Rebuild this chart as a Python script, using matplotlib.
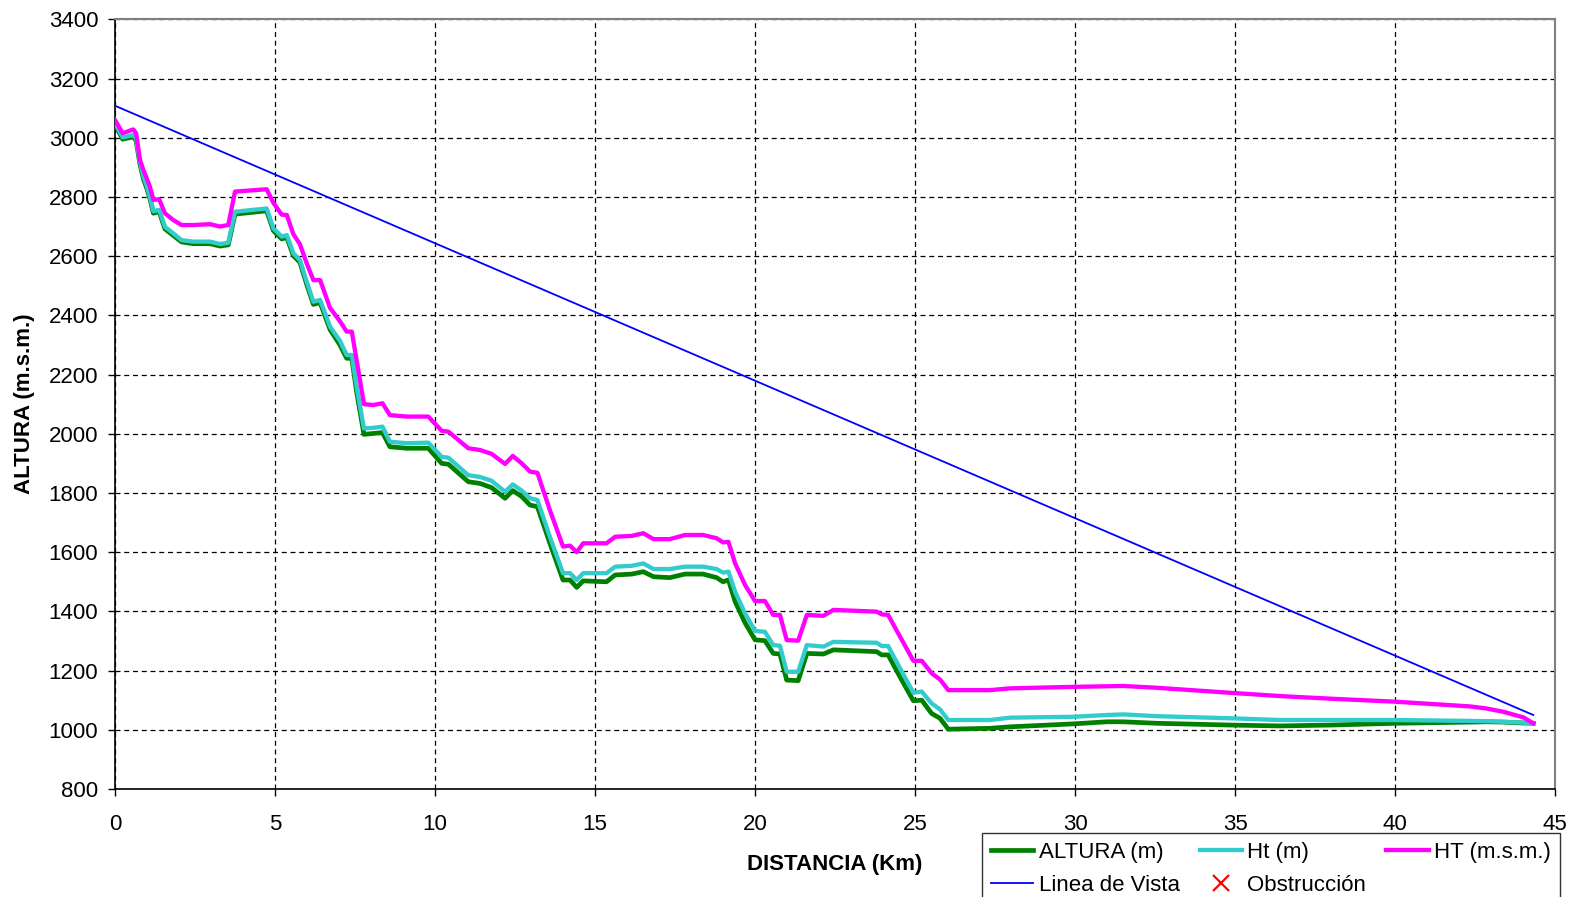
import numpy
import matplotlib.pyplot as plt

plt.rcParams['font.family'] = ['Liberation Sans', 'DejaVu Sans']

# perfil del enlace
distancia = [0.00, 0.24, 0.57, 0.66, 0.78, 0.89, 0.99, 1.09, 1.20, 1.38, 1.56, 1.82, 2.08, 2.45,
             2.97, 3.28, 3.54, 3.75, 4.74, 4.95, 5.21, 5.37, 5.57, 5.78, 5.99, 6.20, 6.41, 6.72,
             7.03, 7.24, 7.40, 7.55, 7.78, 8.07, 8.36, 8.59, 9.12, 9.79, 10.21, 10.42, 11.04,
             11.41, 11.77, 12.19, 12.43, 12.71, 12.97, 13.20, 13.59, 14.00, 14.22, 14.43, 14.63,
             15.36, 15.63, 16.15, 16.51, 16.83, 17.34, 17.81, 18.38, 18.80, 19.00, 19.17, 19.38,
             19.69, 20.00, 20.31, 20.57, 20.78, 20.99, 21.35, 21.62, 22.14, 22.45, 23.80, 23.96,
             24.16, 24.53, 24.95, 25.21, 25.52, 25.78, 26.04, 27.34, 27.97, 29.95, 31.00, 31.51,
             32.55, 34.84, 36.40, 38.00, 40.00, 42.34, 42.86, 43.38, 44.01, 44.32]

altura = [3045, 2995, 3003, 2990, 2910, 2860, 2830, 2795, 2745, 2750, 2692, 2670, 2648, 2642,
          2642, 2634, 2638, 2742, 2753, 2686, 2658, 2663, 2602, 2579, 2505, 2437, 2443, 2352,
          2300, 2255, 2255, 2142, 1998, 2001, 2004, 1956, 1951, 1951, 1900, 1897, 1838,
          1832, 1818, 1782, 1808, 1788, 1759, 1754, 1630, 1506, 1506, 1481, 1503,
          1500, 1523, 1526, 1534, 1517, 1514, 1526, 1526, 1514, 1500, 1506, 1433,
          1361, 1304, 1301, 1258, 1256, 1168, 1166, 1258, 1256, 1270, 1264, 1253,
          1253, 1179, 1098, 1100, 1055, 1039, 1002, 1005, 1010, 1020, 1027, 1027,
          1022, 1016, 1013, 1016, 1022, 1026, 1027, 1026, 1023, 1022]

ht = [3050, 3001, 3009, 2997, 2918, 2868, 2838, 2801, 2752, 2756, 2699, 2677, 2654, 2649,
      2649, 2641, 2645, 2750, 2761, 2694, 2666, 2671, 2610, 2587, 2514, 2446, 2452, 2362,
      2314, 2266, 2266, 2159, 2018, 2020, 2024, 1973, 1968, 1970, 1922, 1919, 1860,
      1854, 1841, 1804, 1829, 1808, 1782, 1776, 1652, 1529, 1529, 1506, 1529,
      1529, 1551, 1554, 1562, 1543, 1543, 1551, 1551, 1543, 1531, 1534, 1466,
      1393, 1334, 1331, 1286, 1284, 1196, 1196, 1286, 1281, 1297, 1294, 1283,
      1283, 1208, 1125, 1129, 1089, 1069, 1033, 1033, 1041, 1044, 1050, 1052,
      1046, 1039, 1033, 1033, 1033, 1030, 1029, 1027, 1024, 1022]

HT = [3060, 3015, 3028, 3015, 2925, 2890, 2863, 2835, 2790, 2792, 2745, 2722, 2705, 2705,
      2708, 2700, 2705, 2818, 2826, 2780, 2740, 2739, 2675, 2640, 2576, 2519, 2519, 2425,
      2380, 2345, 2345, 2249, 2100, 2097, 2103, 2063, 2058, 2058, 2010, 2007, 1951,
      1945, 1932, 1898, 1925, 1900, 1872, 1868, 1742, 1619, 1622, 1600, 1630,
      1630, 1652, 1655, 1664, 1644, 1644, 1658, 1658, 1647, 1633, 1635, 1562,
      1489, 1435, 1435, 1388, 1388, 1303, 1301, 1388, 1385, 1405, 1399, 1390,
      1388, 1315, 1233, 1233, 1191, 1170, 1134, 1134, 1140, 1145, 1147, 1148,
      1142, 1125, 1114, 1105, 1095, 1079, 1072, 1061, 1042, 1022]

vista_km = [0.0, 44.32]
vista_m = [3108, 1050]

obstruccion_km = []
obstruccion_m = []

fig = plt.figure(figsize=(15.77, 8.97), dpi=100)
ax = fig.add_axes([115 / 1577, 1 - 789 / 897, 1440 / 1577, (789 - 19.3) / 897])

l1, = ax.plot(distancia, altura, color='#008000', lw=3.4, label='ALTURA (m)', zorder=3)
l2, = ax.plot(distancia, ht, color='#33CCCC', lw=3.1, label='Ht (m)', zorder=4)
l3, = ax.plot(distancia, HT, color='#FF00FF', lw=3.1, label='HT (m.s.m.)', zorder=5)
l4, = ax.plot(vista_km, vista_m, color='#0000FF', lw=1.3, label='Linea de Vista', zorder=6)
l5, = ax.plot(obstruccion_km, obstruccion_m, 'x', color='red', ms=12, mew=1.6,
              label='Obstrucción')

ax.set_xlim(0, 45)
ax.set_ylim(800, 3400)
ax.set_xticks(numpy.arange(0, 46, 5))
ax.set_yticks(numpy.arange(800, 3401, 200))
ax.grid(True, color='black', lw=0.9, ls=(0, (4, 3)))
ax.set_axisbelow(True)

ax.tick_params(axis='both', direction='out', length=5, width=1, labelsize=16)
ax.tick_params(axis='y', pad=7)
ax.tick_params(axis='x', pad=13)
for s in ['top', 'right']:
    ax.spines[s].set_color('#808080')
    ax.spines[s].set_linewidth(1.5)
for s in ['left', 'bottom']:
    ax.spines[s].set_color('black')
    ax.spines[s].set_linewidth(1.2)

ax.set_xlabel('DISTANCIA (Km)', fontsize=16, fontweight='bold', labelpad=14)
ax.set_ylabel('ALTURA (m.s.m.)', fontsize=16, fontweight='bold', labelpad=10)

leg = fig.legend([l1, l4, l2, l5, l3],
                 ['ALTURA (m)', 'Linea de Vista', 'Ht (m)', 'Obstrucción', 'HT (m.s.m.)'],
                 ncol=3, loc='upper left', bbox_to_anchor=(982 / 1577, 1 - 833 / 897),
                 bbox_transform=fig.transFigure, fontsize=16, frameon=True, fancybox=False,
                 handlelength=1.9, handletextpad=0.25, columnspacing=0.9, labelspacing=0.55,
                 borderpad=0.4, borderaxespad=0, numpoints=1)
leg.get_frame().set_edgecolor('black')
leg.get_frame().set_linewidth(1.0)

plt.savefig('out.png', dpi=100)
